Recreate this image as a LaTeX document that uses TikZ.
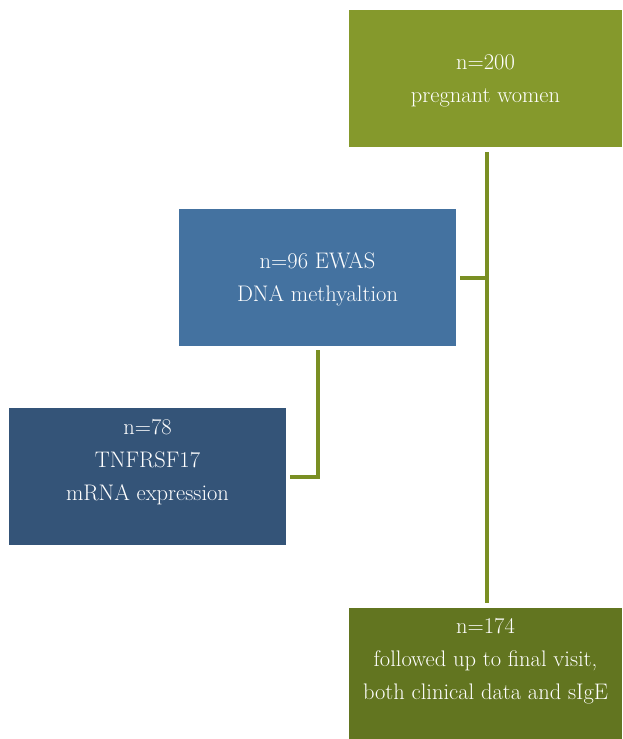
\documentclass[tikz,border=0pt]{standalone}
\definecolor{topg}{HTML}{85992C}
\definecolor{blueb}{HTML}{4472A0}
\definecolor{darkb}{HTML}{345478}
\definecolor{botg}{HTML}{627520}
\definecolor{linec}{HTML}{7A8F23}
\begin{document}
\begin{tikzpicture}[x=1pt,y=-1pt,
  box/.style={rectangle, inner sep=0pt, outer sep=0pt, anchor=north west},
  txt/.style={text=white, align=center, font=\fontsize{22.5}{33}\selectfont, inner sep=0pt},
  conn/.style={draw=linec, line width=4pt}]
\useasboundingbox (0,0) rectangle (622,739);
\node[box, fill=topg, minimum width=273pt, minimum height=137pt] (top) at (349,10) {};
\node[box, fill=blueb, minimum width=277pt, minimum height=137pt] (blue) at (179,209) {};
\node[box, fill=darkb, minimum width=277pt, minimum height=137pt] (db) at (9,408) {};
\node[box, fill=botg, minimum width=273pt, minimum height=131pt] (bot) at (349,608) {};
\node[txt] (ttop) at ([yshift=-2pt]top.center) {n=200\\pregnant women};
\node[txt] (tblue) at ([yshift=-2pt]blue.center) {n=96 EWAS\\DNA methyaltion};
\node[txt] (tdb) at (147.5,462) {n=78\\TNFRSF17\\mRNA expression};
\node[txt] (tbot) at (485.5,661) {n=174\\followed up to final visit,\\both clinical data and sIgE};
\draw[conn] ([xshift=1.5pt,yshift=-5pt]top.south) -- ([xshift=1.5pt,yshift=5pt]bot.north);
\draw[conn] ([xshift=4pt]blue.east) -- ([xshift=3.5pt]blue.east -| top.south);
\draw[conn] ([yshift=-4pt]blue.south) |- ([xshift=4pt]db.east);
\end{tikzpicture}
\end{document}
